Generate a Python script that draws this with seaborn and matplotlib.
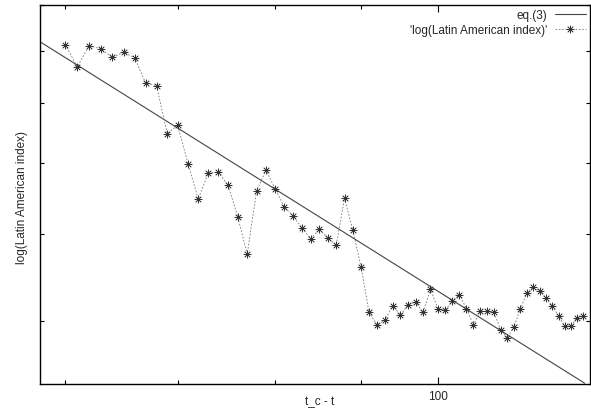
import numpy as np
import pandas as pd
import matplotlib
matplotlib.use("Agg")
import matplotlib.pyplot as plt
import seaborn as sns
from matplotlib.ticker import FixedLocator, NullFormatter, FixedFormatter

# t_c - t (weeks) and log(index)
tc_minus_t = [60, 61, 62, 63, 64, 65, 66, 67, 68, 69, 70, 71, 72, 73, 74, 75,
              76, 77, 78, 79, 80, 81, 82, 83, 84, 85, 86, 87, 88, 89, 90, 91,
              92, 93, 94, 95, 96, 97, 98, 99, 100, 101, 102, 103, 104, 105,
              106, 107, 108, 109, 110, 111, 112, 113, 114, 115, 116, 117, 118,
              119, 120, 121, 122]
log_index = [8.13, 7.68, 8.11, 8.04, 7.87, 7.97, 7.86, 7.36, 7.32, 6.47, 6.61,
             5.99, 5.47, 5.85, 5.86, 5.67, 5.23, 4.75, 5.58, 5.89, 5.62, 5.36,
             5.24, 5.08, 4.94, 5.06, 4.95, 4.86, 5.48, 5.05, 4.60, 4.09, 3.96,
             4.01, 4.16, 4.06, 4.17, 4.20, 4.09, 4.34, 4.13, 4.11, 4.21, 4.28,
             4.13, 3.96, 4.10, 4.10, 4.09, 3.91, 3.83, 3.94, 4.13, 4.30, 4.36,
             4.32, 4.24, 4.16, 4.05, 3.95, 3.95, 4.03, 4.05]

# eq.(3) power law, straight in log-log: two end points
eq3_x = [57.96, 122.3]
eq3_y = [8.19, 3.41]

x_minor = [60, 70, 80, 90]
x_major = [100]
y_ticks = [4, 5, 6, 7, 8, 9]

sns.set_theme(style="ticks")
plt.rcParams['font.family'] = ['Liberation Sans', 'DejaVu Sans']

df = pd.DataFrame({"t": tc_minus_t, "y": log_index})

fig = plt.figure(figsize=(5.91, 4.14), dpi=100)
ax = fig.add_axes([40 / 591, 29 / 414, 550 / 591, 379 / 414])

ax.plot(eq3_x, eq3_y, color="#444444", lw=0.8, label="eq.(3)")
sns.lineplot(data=df, x="t", y="y", ax=ax, color="#777777", lw=0.6,
             linestyle=(0, (2, 2)), marker=(8, 2, 0), markersize=5.5,
             markeredgecolor="#333333", markeredgewidth=0.5,
             label="'log(Latin American index)'")

ax.set_xscale("log")
ax.set_yscale("log")
ax.set_xlim(57.96, 123.2)
ax.set_ylim(3.403, 9.0)

ax.xaxis.set_major_locator(FixedLocator(x_major))
ax.xaxis.set_major_formatter(FixedFormatter(["100"]))
ax.xaxis.set_minor_locator(FixedLocator(x_minor))
ax.xaxis.set_minor_formatter(NullFormatter())
ax.yaxis.set_major_locator(FixedLocator(y_ticks))
ax.yaxis.set_major_formatter(NullFormatter())
ax.yaxis.set_minor_locator(FixedLocator([]))

ax.tick_params(which="both", direction="in", top=True, right=True,
               color="black", width=0.8, labelsize=8.5, pad=4)
ax.tick_params(which="major", length=5)
ax.tick_params(which="minor", length=3)
ax.tick_params(axis="y", which="major", length=3)

for s in ax.spines.values():
    s.set_color("black")
    s.set_linewidth(1.0)

ax.set_xlabel("t_c - t", fontsize=8.5)
ax.xaxis.set_label_coords(0.509, -0.030)
ax.set_ylabel("log(Latin American index)", fontsize=8.5)
ax.yaxis.set_label_coords(-0.022, 0.496)

ax.legend(loc="upper right", frameon=False, markerfirst=False, fontsize=8.5,
          handlelength=2.65, handletextpad=0.6, labelspacing=0.25,
          borderaxespad=0, borderpad=0.34)

fig.savefig("out.png", dpi=100)
